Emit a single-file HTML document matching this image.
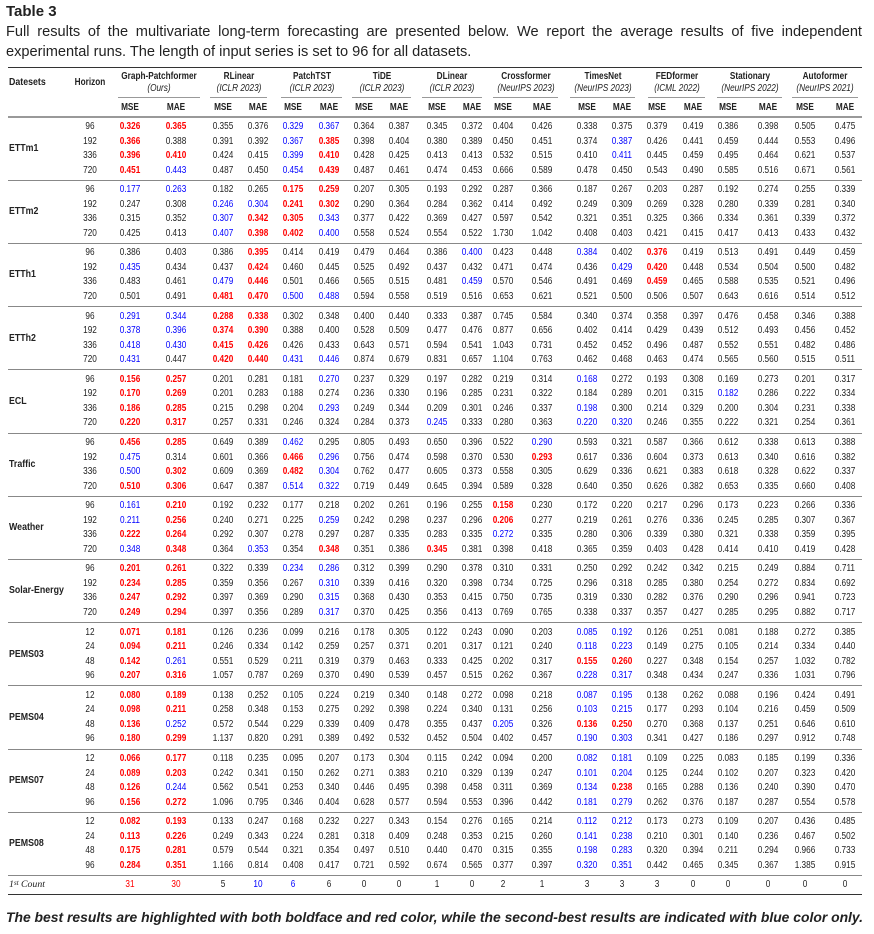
<!DOCTYPE html>
<html><head><meta charset="utf-8">
<style>
body{margin:0;background:#fff;width:874px;height:934px;position:relative;overflow:hidden;font-family:"Liberation Sans",sans-serif;color:#222}
.a{position:absolute;white-space:nowrap}
.c{transform:translateX(-50%) scaleX(0.84)}
.l{transform-origin:0 0;transform:scaleX(0.9)}
.v{font-size:9.8px;line-height:12px}
.hl{position:absolute;background:#555}
</style></head><body>
<div class="a" style="left:6px;top:3px;font-size:15px;font-weight:bold;">Table 3</div>
<div class="a" style="left:6px;top:23px;font-size:14.6px;line-height:19.5px;width:856px;white-space:normal;text-align:justify;text-align-last:left;">Full results of the multivariate long-term forecasting are presented below. We report the average results of five independent experimental runs. The length of input series is set to 96 for all datasets.</div>
<div id="tbl"></div>
<div class="a" style="left:6px;top:909px;font-size:13.9px;font-weight:bold;font-style:italic;">The best results are highlighted with both boldface and red color, while the second-best results are indicated with blue color only.</div>
<script>
const models=["Graph-Patchformer","RLinear","PatchTST","TiDE","DLinear","Crossformer","TimesNet","FEDformer","Stationary","Autoformer"];
const venues=["(Ours)","(ICLR 2023)","(ICLR 2023)","(ICLR 2023)","(ICLR 2023)","(NeurIPS 2023)","(NeurIPS 2023)","(ICML 2022)","(NeurIPS 2022)","(NeurIPS 2021)"];
const datasets=["ETTm1","ETTm2","ETTh1","ETTh2","ECL","Traffic","Weather","Solar-Energy","PEMS03","PEMS04","PEMS07","PEMS08"];
const horizonsLong=["96","192","336","720"];
const horizonsPems=["12","24","48","96"];
// * = best (red bold), ~ = second (blue)
const values=[
["*0.326 *0.365 0.355 0.376 ~0.329 ~0.367 0.364 0.387 0.345 0.372 0.404 0.426 0.338 0.375 0.379 0.419 0.386 0.398 0.505 0.475",
"*0.366 0.388 0.391 0.392 ~0.367 *0.385 0.398 0.404 0.380 0.389 0.450 0.451 0.374 ~0.387 0.426 0.441 0.459 0.444 0.553 0.496",
"*0.396 *0.410 0.424 0.415 ~0.399 *0.410 0.428 0.425 0.413 0.413 0.532 0.515 0.410 ~0.411 0.445 0.459 0.495 0.464 0.621 0.537",
"*0.451 ~0.443 0.487 0.450 ~0.454 *0.439 0.487 0.461 0.474 0.453 0.666 0.589 0.478 0.450 0.543 0.490 0.585 0.516 0.671 0.561"],
["~0.177 ~0.263 0.182 0.265 *0.175 *0.259 0.207 0.305 0.193 0.292 0.287 0.366 0.187 0.267 0.203 0.287 0.192 0.274 0.255 0.339",
"0.247 0.308 ~0.246 ~0.304 *0.241 *0.302 0.290 0.364 0.284 0.362 0.414 0.492 0.249 0.309 0.269 0.328 0.280 0.339 0.281 0.340",
"0.315 0.352 ~0.307 *0.342 *0.305 ~0.343 0.377 0.422 0.369 0.427 0.597 0.542 0.321 0.351 0.325 0.366 0.334 0.361 0.339 0.372",
"0.425 0.413 ~0.407 *0.398 *0.402 ~0.400 0.558 0.524 0.554 0.522 1.730 1.042 0.408 0.403 0.421 0.415 0.417 0.413 0.433 0.432"],
["0.386 0.403 0.386 *0.395 0.414 0.419 0.479 0.464 0.386 ~0.400 0.423 0.448 ~0.384 0.402 *0.376 0.419 0.513 0.491 0.449 0.459",
"~0.435 0.434 0.437 *0.424 0.460 0.445 0.525 0.492 0.437 0.432 0.471 0.474 0.436 ~0.429 *0.420 0.448 0.534 0.504 0.500 0.482",
"0.483 0.461 ~0.479 *0.446 0.501 0.466 0.565 0.515 0.481 ~0.459 0.570 0.546 0.491 0.469 *0.459 0.465 0.588 0.535 0.521 0.496",
"0.501 0.491 *0.481 *0.470 ~0.500 ~0.488 0.594 0.558 0.519 0.516 0.653 0.621 0.521 0.500 0.506 0.507 0.643 0.616 0.514 0.512"],
["~0.291 ~0.344 *0.288 *0.338 0.302 0.348 0.400 0.440 0.333 0.387 0.745 0.584 0.340 0.374 0.358 0.397 0.476 0.458 0.346 0.388",
"~0.378 ~0.396 *0.374 *0.390 0.388 0.400 0.528 0.509 0.477 0.476 0.877 0.656 0.402 0.414 0.429 0.439 0.512 0.493 0.456 0.452",
"~0.418 ~0.430 *0.415 *0.426 0.426 0.433 0.643 0.571 0.594 0.541 1.043 0.731 0.452 0.452 0.496 0.487 0.552 0.551 0.482 0.486",
"~0.431 0.447 *0.420 *0.440 ~0.431 ~0.446 0.874 0.679 0.831 0.657 1.104 0.763 0.462 0.468 0.463 0.474 0.565 0.560 0.515 0.511"],
["*0.156 *0.257 0.201 0.281 0.181 ~0.270 0.237 0.329 0.197 0.282 0.219 0.314 ~0.168 0.272 0.193 0.308 0.169 0.273 0.201 0.317",
"*0.170 *0.269 0.201 0.283 0.188 0.274 0.236 0.330 0.196 0.285 0.231 0.322 0.184 0.289 0.201 0.315 ~0.182 0.286 0.222 0.334",
"*0.186 *0.285 0.215 0.298 0.204 ~0.293 0.249 0.344 0.209 0.301 0.246 0.337 ~0.198 0.300 0.214 0.329 0.200 0.304 0.231 0.338",
"*0.220 *0.317 0.257 0.331 0.246 0.324 0.284 0.373 ~0.245 0.333 0.280 0.363 ~0.220 ~0.320 0.246 0.355 0.222 0.321 0.254 0.361"],
["*0.456 *0.285 0.649 0.389 ~0.462 0.295 0.805 0.493 0.650 0.396 0.522 ~0.290 0.593 0.321 0.587 0.366 0.612 0.338 0.613 0.388",
"~0.475 0.314 0.601 0.366 *0.466 ~0.296 0.756 0.474 0.598 0.370 0.530 *0.293 0.617 0.336 0.604 0.373 0.613 0.340 0.616 0.382",
"~0.500 *0.302 0.609 0.369 *0.482 ~0.304 0.762 0.477 0.605 0.373 0.558 0.305 0.629 0.336 0.621 0.383 0.618 0.328 0.622 0.337",
"*0.510 *0.306 0.647 0.387 ~0.514 ~0.322 0.719 0.449 0.645 0.394 0.589 0.328 0.640 0.350 0.626 0.382 0.653 0.335 0.660 0.408"],
["~0.161 *0.210 0.192 0.232 0.177 0.218 0.202 0.261 0.196 0.255 *0.158 0.230 0.172 0.220 0.217 0.296 0.173 0.223 0.266 0.336",
"~0.211 *0.256 0.240 0.271 0.225 ~0.259 0.242 0.298 0.237 0.296 *0.206 0.277 0.219 0.261 0.276 0.336 0.245 0.285 0.307 0.367",
"*0.222 *0.264 0.292 0.307 0.278 0.297 0.287 0.335 0.283 0.335 ~0.272 0.335 0.280 0.306 0.339 0.380 0.321 0.338 0.359 0.395",
"~0.348 *0.348 0.364 ~0.353 0.354 *0.348 0.351 0.386 *0.345 0.381 0.398 0.418 0.365 0.359 0.403 0.428 0.414 0.410 0.419 0.428"],
["*0.201 *0.261 0.322 0.339 ~0.234 ~0.286 0.312 0.399 0.290 0.378 0.310 0.331 0.250 0.292 0.242 0.342 0.215 0.249 0.884 0.711",
"*0.234 *0.285 0.359 0.356 0.267 ~0.310 0.339 0.416 0.320 0.398 0.734 0.725 0.296 0.318 0.285 0.380 0.254 0.272 0.834 0.692",
"*0.247 *0.292 0.397 0.369 0.290 ~0.315 0.368 0.430 0.353 0.415 0.750 0.735 0.319 0.330 0.282 0.376 0.290 0.296 0.941 0.723",
"*0.249 *0.294 0.397 0.356 0.289 ~0.317 0.370 0.425 0.356 0.413 0.769 0.765 0.338 0.337 0.357 0.427 0.285 0.295 0.882 0.717"],
["*0.071 *0.181 0.126 0.236 0.099 0.216 0.178 0.305 0.122 0.243 0.090 0.203 ~0.085 ~0.192 0.126 0.251 0.081 0.188 0.272 0.385",
"*0.094 *0.211 0.246 0.334 0.142 0.259 0.257 0.371 0.201 0.317 0.121 0.240 ~0.118 ~0.223 0.149 0.275 0.105 0.214 0.334 0.440",
"*0.142 ~0.261 0.551 0.529 0.211 0.319 0.379 0.463 0.333 0.425 0.202 0.317 *0.155 *0.260 0.227 0.348 0.154 0.257 1.032 0.782",
"*0.207 *0.316 1.057 0.787 0.269 0.370 0.490 0.539 0.457 0.515 0.262 0.367 ~0.228 ~0.317 0.348 0.434 0.247 0.336 1.031 0.796"],
["*0.080 *0.189 0.138 0.252 0.105 0.224 0.219 0.340 0.148 0.272 0.098 0.218 ~0.087 ~0.195 0.138 0.262 0.088 0.196 0.424 0.491",
"*0.098 *0.211 0.258 0.348 0.153 0.275 0.292 0.398 0.224 0.340 0.131 0.256 ~0.103 ~0.215 0.177 0.293 0.104 0.216 0.459 0.509",
"*0.136 ~0.252 0.572 0.544 0.229 0.339 0.409 0.478 0.355 0.437 ~0.205 0.326 *0.136 *0.250 0.270 0.368 0.137 0.251 0.646 0.610",
"*0.180 *0.299 1.137 0.820 0.291 0.389 0.492 0.532 0.452 0.504 0.402 0.457 ~0.190 ~0.303 0.341 0.427 0.186 0.297 0.912 0.748"],
["*0.066 *0.177 0.118 0.235 0.095 0.207 0.173 0.304 0.115 0.242 0.094 0.200 ~0.082 ~0.181 0.109 0.225 0.083 0.185 0.199 0.336",
"*0.089 *0.203 0.242 0.341 0.150 0.262 0.271 0.383 0.210 0.329 0.139 0.247 ~0.101 ~0.204 0.125 0.244 0.102 0.207 0.323 0.420",
"*0.126 ~0.244 0.562 0.541 0.253 0.340 0.446 0.495 0.398 0.458 0.311 0.369 ~0.134 *0.238 0.165 0.288 0.136 0.240 0.390 0.470",
"*0.156 *0.272 1.096 0.795 0.346 0.404 0.628 0.577 0.594 0.553 0.396 0.442 ~0.181 ~0.279 0.262 0.376 0.187 0.287 0.554 0.578"],
["*0.082 *0.193 0.133 0.247 0.168 0.232 0.227 0.343 0.154 0.276 0.165 0.214 ~0.112 ~0.212 0.173 0.273 0.109 0.207 0.436 0.485",
"*0.113 *0.226 0.249 0.343 0.224 0.281 0.318 0.409 0.248 0.353 0.215 0.260 ~0.141 ~0.238 0.210 0.301 0.140 0.236 0.467 0.502",
"*0.175 *0.281 0.579 0.544 0.321 0.354 0.497 0.510 0.440 0.470 0.315 0.355 ~0.198 ~0.283 0.320 0.394 0.211 0.294 0.966 0.733",
"*0.284 *0.351 1.166 0.814 0.408 0.417 0.721 0.592 0.674 0.565 0.377 0.397 ~0.320 ~0.351 0.442 0.465 0.345 0.367 1.385 0.915"]
];
const counts=["*31","*30","5","~10","~6","6","0","0","1","0","2","1","3","3","3","0","0","0","0","0"];

const colX=[130,176,223,258,293,329,364,399,437,472,503,542,587,622,657,693,728,768,805,845];
const T=document.getElementById('tbl');
function add(txt,x,y,cls,style,name){
  const d=document.createElement('div');
  d.className='a '+cls;
  d.style.cssText='left:'+x+'px;top:'+y+'px;'+(style||'');
  d.textContent=txt;
  
  
  T.appendChild(d);return d;
}
function line(y,h,x1,x2,color,name){
  const d=document.createElement('div');
  d.className='hl';
  d.style.cssText='left:'+x1+'px;top:'+y+'px;width:'+(x2-x1)+'px;height:'+h+'px;background:'+color;
  
  
  T.appendChild(d);
}
function cell(s,x,y,name){
  let st='';let t=s;
  if(s[0]==='*'){t=s.slice(1);st='color:#f00;font-weight:bold;';}
  else if(s[0]==='~'){t=s.slice(1);st='color:#00f;';}
  add(t,x,y,'c v',st,name);
}
line(67,1.3,8,862,'#333','top-rule');
add('Datesets',9,77,'l v','font-weight:bold;','datasets-header');
add('Horizon',90,77,'c v','font-weight:bold;','horizon-header');
const under=[[118,200],[210,267],[281,342],[352,411],[422,482],[493,558],[570,635],[648,705],[717,782],[792,858]];
models.forEach((m,i)=>{
  const cx=(under[i][0]+under[i][1])/2;
  add(m,cx,71,'c v','font-weight:bold;','model-name-'+i);
  add(venues[i],cx,83,'c v','font-style:italic;','model-venue-'+i);
  line(97,1,under[i][0],under[i][1],'#999','model-underline-'+i);
  add('MSE',colX[2*i],102,'c v','font-weight:bold;','mse-header-'+i);
  add('MAE',colX[2*i+1],102,'c v','font-weight:bold;','mae-header-'+i);
});
line(116,2,8,862,'#999','header-rule');
const G=63.2;
datasets.forEach((ds,g)=>{
  const y0=117+g*G;
  if(g>0) line(y0-0.5,1,8,862,'#888','group-rule-'+g);
  const hz=g>=8?horizonsPems:horizonsLong;
  add(ds,9,y0+26,'l v','font-weight:bold;','dataset-label-'+ds);
  values[g].forEach((row,r)=>{
    const y=y0+4+r*14.5;
    add(hz[r],90,y,'c v','','horizon-'+ds+'-'+hz[r]);
    row.split(' ').forEach((s,k)=>cell(s,colX[k],y,'cell-'+ds+'-'+hz[r]+'-'+k));
  });
});
line(875,1,8,862,'#888','count-rule');
add('1',9,879,'v','font-family:"Liberation Serif",serif;font-style:italic;','count-label-1');
add('st',14,877,'v','font-family:"Liberation Serif",serif;font-style:italic;font-size:7px;','count-label-st');
add('Count',21,879,'v','font-family:"Liberation Serif",serif;font-style:italic;','count-label');
counts.forEach((s,k)=>{
  let st='';let t=s;
  if(s[0]==='*'){t=s.slice(1);st='color:#f00;';}
  else if(s[0]==='~'){t=s.slice(1);st='color:#00f;';}
  add(t,colX[k],879,'c v',st,'count-'+k);
});
line(894,1.3,8,862,'#333','bottom-rule');
</script>
</body></html>
